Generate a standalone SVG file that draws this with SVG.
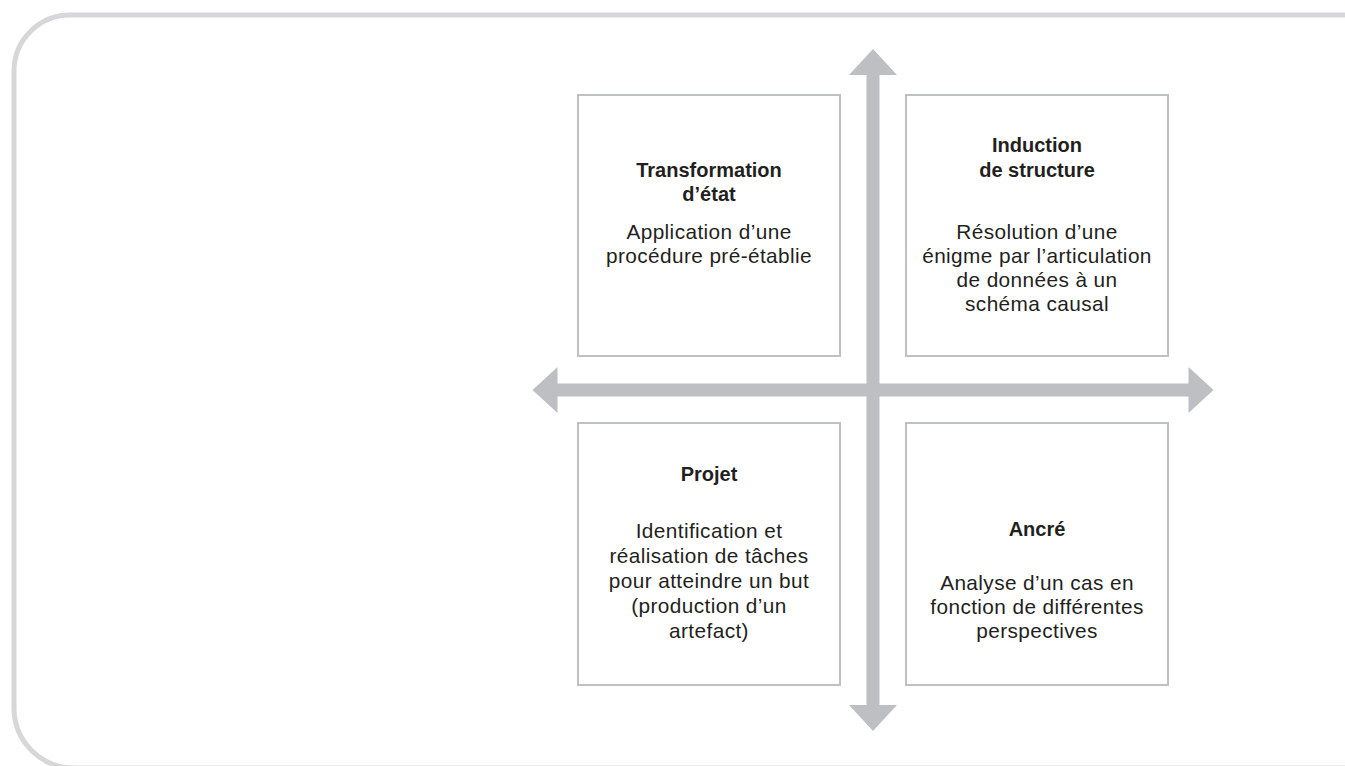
<svg xmlns="http://www.w3.org/2000/svg" width="1345" height="766" viewBox="0 0 1345 766">
<style>
.frame{fill:none;stroke:#d7d7d9;stroke-width:5}
.box{fill:#fff;stroke:#bfc0c2;stroke-width:2}
.axis{fill:#bebfc2}
text{font-family:"Liberation Sans",Arial,sans-serif;font-size:20.8px;letter-spacing:0.4px;fill:#231f20;text-anchor:middle}
.t{font-weight:bold;font-size:20px;letter-spacing:0}
</style>
<rect width="1345" height="766" fill="#fff"/>
<path class="frame" d="M1350 15 H70 A56 56 0 0 0 14 71 V708 A60 60 0 0 0 74 768 H1350"/>
<g id="connectors">
<polygon class="axis" points="866.5,75 849,75 873,49 897,75 879.5,75 879.5,705 897,705 873,731 849,705 866.5,705"/>
<polygon class="axis" points="557.5,383.5 557.5,367 532.5,390 557.5,413 557.5,396.5 1188.5,396.5 1188.5,413 1213.5,390 1188.5,367 1188.5,383.5"/>
</g>
<g id="transformation">
<rect class="box" x="578" y="95" width="262" height="261"/>
<text class="t" x="709" y="177">Transformation</text>
<text class="t" x="709" y="201">d’état</text>
<text x="709" y="239">Application d’une</text>
<text x="709" y="263">procédure pré-établie</text>
</g>
<g id="induction">
<rect class="box" x="906" y="95" width="262" height="261"/>
<text class="t" x="1037" y="152">Induction</text>
<text class="t" x="1037" y="177">de structure</text>
<text x="1037" y="239">Résolution d’une</text>
<text x="1037" y="263">énigme par l’articulation</text>
<text x="1037" y="287">de données à un</text>
<text x="1037" y="311">schéma causal</text>
</g>
<g id="projet">
<rect class="box" x="578" y="423" width="262" height="262"/>
<text class="t" x="709" y="481">Projet</text>
<text x="709" y="538">Identification et</text>
<text x="709" y="563">réalisation de tâches</text>
<text x="709" y="588">pour atteindre un but</text>
<text x="709" y="613">(production d’un</text>
<text x="709" y="638">artefact)</text>
</g>
<g id="ancre">
<rect class="box" x="906" y="423" width="262" height="262"/>
<text class="t" x="1037" y="536">Ancré</text>
<text x="1037" y="590">Analyse d’un cas en</text>
<text x="1037" y="614">fonction de différentes</text>
<text x="1037" y="638">perspectives</text>
</g>
</svg>
